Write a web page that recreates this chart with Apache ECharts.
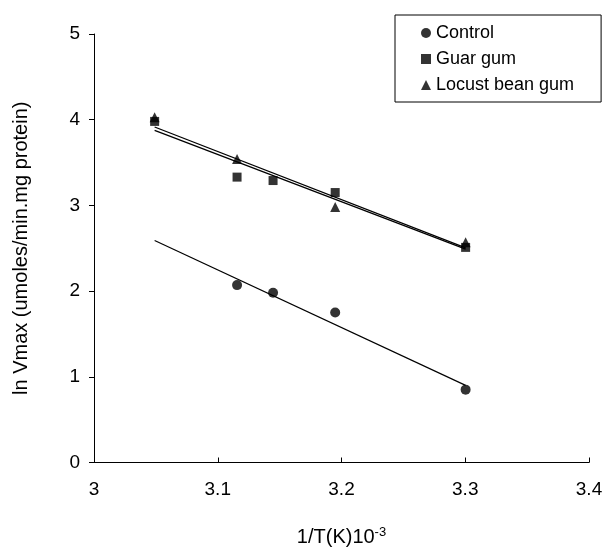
<!DOCTYPE html>
<html>
<head>
<meta charset="utf-8">
<title>ln Vmax</title>
<script src="https://cdn.jsdelivr.net/npm/echarts@6/dist/echarts.min.js"></script>
<style>
  html, body { margin: 0; padding: 0; background: #fff; }
  #chart { width: 606px; height: 552px; }
</style>
</head>
<body>
<div id="chart"></div>
<script>
// 1/T(K) x 10^-3 values
const controlX = [3.1156, 3.1447, 3.1949, 3.3003];
const controlY = [2.07, 1.98, 1.75, 0.85];
const guarX = [3.049, 3.1156, 3.1447, 3.1949, 3.3003];
const guarY = [3.98, 3.33, 3.29, 3.15, 2.51];
const locustX = [3.049, 3.1156, 3.1949, 3.3003];
const locustY = [4.03, 3.54, 2.98, 2.57];

// trend lines, end points
const controlFit = [[3.049, 2.59], [3.3003, 0.90]];
const guarFit = [[3.049, 3.875], [3.3003, 2.49]];
const locustFit = [[3.049, 3.915], [3.3003, 2.505]];

const xTicks = [3, 3.1, 3.2, 3.3, 3.4];
const yTicks = [0, 1, 2, 3, 4, 5];

function pairs(xs, ys) {
    return xs.map((x, i) => [x, ys[i]]);
}

const font = 'Liberation Sans, Arial, sans-serif';
const chart = echarts.init(document.getElementById('chart'));

chart.setOption({
    animation: false,
    textStyle: { fontFamily: font, color: '#000' },
    grid: { left: 94, right: 17, top: 34, bottom: 88 },
    legend: {
        data: ['Control', 'Guar gum', 'Locust bean gum'],
        orient: 'vertical',
        left: 395,
        top: 15,
        padding: [9, 27, 8, 26],
        itemGap: 8,
        itemWidth: 10,
        itemHeight: 10,
        borderColor: '#000',
        borderWidth: 1,
        textStyle: { fontSize: 18, color: '#000', fontFamily: font }
    },
    xAxis: {
        type: 'value',
        min: xTicks[0],
        max: xTicks[xTicks.length - 1],
        interval: 0.1,
        name: '1/T(K)10{sup|-3}',
        nameLocation: 'middle',
        nameGap: 63,
        nameTextStyle: {
            fontSize: 20, color: '#000',
            rich: { sup: { fontSize: 13, verticalAlign: 'top', padding: [0, 0, 10, 0] } }
        },
        axisLine: { lineStyle: { color: '#000', width: 1 } },
        axisTick: { inside: true, length: 5, lineStyle: { color: '#000' } },
        axisLabel: { margin: 18, fontSize: 19, color: '#000', formatter: v => String(+v.toFixed(1)) },
        splitLine: { show: false }
    },
    yAxis: {
        type: 'value',
        min: yTicks[0],
        max: yTicks[yTicks.length - 1],
        interval: 1,
        name: 'ln Vmax (umoles/min.mg protein)',
        nameLocation: 'middle',
        nameGap: 63,
        nameTextStyle: { fontSize: 20, color: '#000' },
        axisLine: { show: true, lineStyle: { color: '#000', width: 1 } },
        axisTick: { show: true, length: 5, lineStyle: { color: '#000' } },
        axisLabel: { margin: 14, fontSize: 19, color: '#000' },
        splitLine: { show: false }
    },
    series: [
        {
            name: 'Control fit', type: 'line', data: controlFit, symbol: 'none',
            lineStyle: { color: '#000', width: 1.2 }, silent: true
        },
        {
            name: 'Guar fit', type: 'line', data: guarFit, symbol: 'none',
            lineStyle: { color: '#000', width: 1.3 }, silent: true
        },
        {
            name: 'Locust fit', type: 'line', data: locustFit, symbol: 'none',
            lineStyle: { color: '#000', width: 1.3 }, silent: true
        },
        {
            name: 'Control', type: 'scatter', data: pairs(controlX, controlY),
            symbol: 'circle', symbolSize: 10, itemStyle: { color: '#000' }
        },
        {
            name: 'Guar gum', type: 'scatter', data: pairs(guarX, guarY),
            symbol: 'rect', symbolSize: 9, itemStyle: { color: '#000' }
        },
        {
            name: 'Locust bean gum', type: 'scatter', data: pairs(locustX, locustY),
            symbol: 'triangle', symbolSize: 10, itemStyle: { color: '#000' }
        }
    ]
});
</script>
</body>
</html>
